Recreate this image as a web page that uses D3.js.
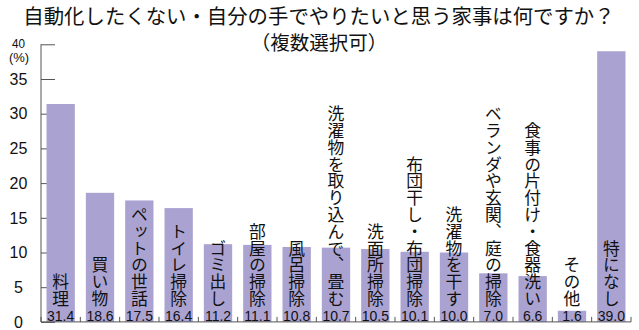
<!DOCTYPE html>
<meta charset="utf-8">
<html>
  <head>
    <script src="https://d3js.org/d3.v7.min.js"></script>
    <style>
      body { margin: 0; background: #fff; }
      text { fill: #111; }
    </style>
  </head>
  <body>
    <svg id="chart" width="639" height="330"></svg>
    <script>
    // data
    const categories = ["料理", "買い物", "ペットの世話", "トイレ掃除", "ゴミ出し", "部屋の掃除", "風呂掃除",
      "洗濯物を取り込んで、畳む", "洗面所掃除", "布団干し・布団掃除", "洗濯物を干す",
      "ベランダや玄関、庭の掃除", "食事の片付け・食器洗い", "その他", "特になし"];
    const values = [31.4, 18.6, 17.5, 16.4, 11.2, 11.1, 10.8, 10.7, 10.5, 10.1, 10.0, 7.0, 6.6, 1.6, 39.0];
    const yTicks = [0, 5, 10, 15, 20, 25, 30, 35, 40];

    const title = "自動化したくない・自分の手でやりたいと思う家事は何ですか？";
    const subtitle = "（複数選択可）";

    const plotLeft = 41, plotRight = 631, plotTop = 44.3, base = 321.9;
    const jp = "'Noto Sans CJK JP', sans-serif";
    const barColor = "#aaa3d2";

    const svg = d3.select("#chart");

    const x = d3.scaleBand()
        .domain(categories)
        .range([plotLeft, plotRight])
        .paddingInner(0.28)
        .paddingOuter(0.14);

    const y = d3.scaleLinear()
        .domain([0, 40])
        .range([base, plotTop]);

    // title
    svg.append("text")
        .attr("x", 319).attr("y", 24)
        .attr("text-anchor", "middle")
        .style("font-family", jp)
        .style("font-size", "20.4px")
        .text(title);

    svg.append("text")
        .attr("x", 319).attr("y", 49.5)
        .attr("text-anchor", "middle")
        .style("font-family", jp)
        .style("font-size", "19.5px")
        .text(subtitle);

    // y axis, ticks point inward (hidden behind bars)
    const yAxis = svg.append("g")
        .attr("transform", "translate(" + plotLeft + ",0)")
        .call(d3.axisRight(y).tickValues(yTicks).tickSize(14).tickFormat(""));
    yAxis.select(".domain").attr("d", "M0," + plotTop + "V" + base).attr("stroke", "#555");
    yAxis.selectAll(".tick line").attr("stroke", "#555");

    svg.append("g").selectAll("text")
        .data(yTicks.filter(d => d < 40))
        .join("text")
        .attr("x", 18.5)
        .attr("y", d => y(d))
        .attr("dy", "0.36em")
        .attr("text-anchor", "middle")
        .style("font-family", "'Liberation Sans', Arial, sans-serif")
        .style("font-size", "16px")
        .text(d => d);

    svg.append("text")
        .attr("x", 18.5).attr("y", 48)
        .attr("text-anchor", "middle")
        .style("font-family", "'Liberation Sans', Arial, sans-serif")
        .style("font-size", "12.5px")
        .attr("textLength", 13).attr("lengthAdjust", "spacingAndGlyphs")
        .text("40");
    svg.append("text")
        .attr("x", 19).attr("y", 62)
        .attr("text-anchor", "middle")
        .style("font-family", "'Liberation Sans', Arial, sans-serif")
        .style("font-size", "13px")
        .text("(%)");

    // bars
    svg.append("g").selectAll("rect")
        .data(values)
        .join("rect")
        .attr("x", (d, i) => x(categories[i]))
        .attr("y", d => y(d))
        .attr("width", x.bandwidth())
        .attr("height", d => base - y(d))
        .attr("fill", barColor);

    // bottom axis with ticks at band boundaries
    const bounds = d3.range(categories.length + 1).map(i => plotLeft + i * (plotRight - plotLeft) / categories.length);
    const xAxis = svg.append("g");
    xAxis.append("line")
        .attr("x1", plotLeft).attr("x2", plotRight)
        .attr("y1", base).attr("y2", base)
        .attr("stroke", "#555");
    xAxis.selectAll(".bt")
        .data(bounds)
        .join("line")
        .attr("class", "bt")
        .attr("x1", d => d).attr("x2", d => d)
        .attr("y1", base).attr("y2", base - 5)
        .attr("stroke", "#555");

    // vertical category labels
    svg.append("g").selectAll("text")
        .data(categories)
        .join("text")
        .attr("x", d => x(d) + x.bandwidth() / 2)
        .attr("y", 307)
        .attr("text-anchor", "end")
        .style("writing-mode", "vertical-rl")
        .style("font-family", jp)
        .style("font-size", "16.8px")
        .text(d => d);

    // values under the bars
    svg.append("g").selectAll("text")
        .data(values)
        .join("text")
        .attr("x", (d, i) => x(categories[i]) + x.bandwidth() / 2)
        .attr("y", 320.5)
        .attr("text-anchor", "middle")
        .style("font-family", "'Liberation Sans', Arial, sans-serif")
        .style("font-size", "14px")
        .text(d => d3.format(".1f")(d));
    </script>
  </body>
</html>
